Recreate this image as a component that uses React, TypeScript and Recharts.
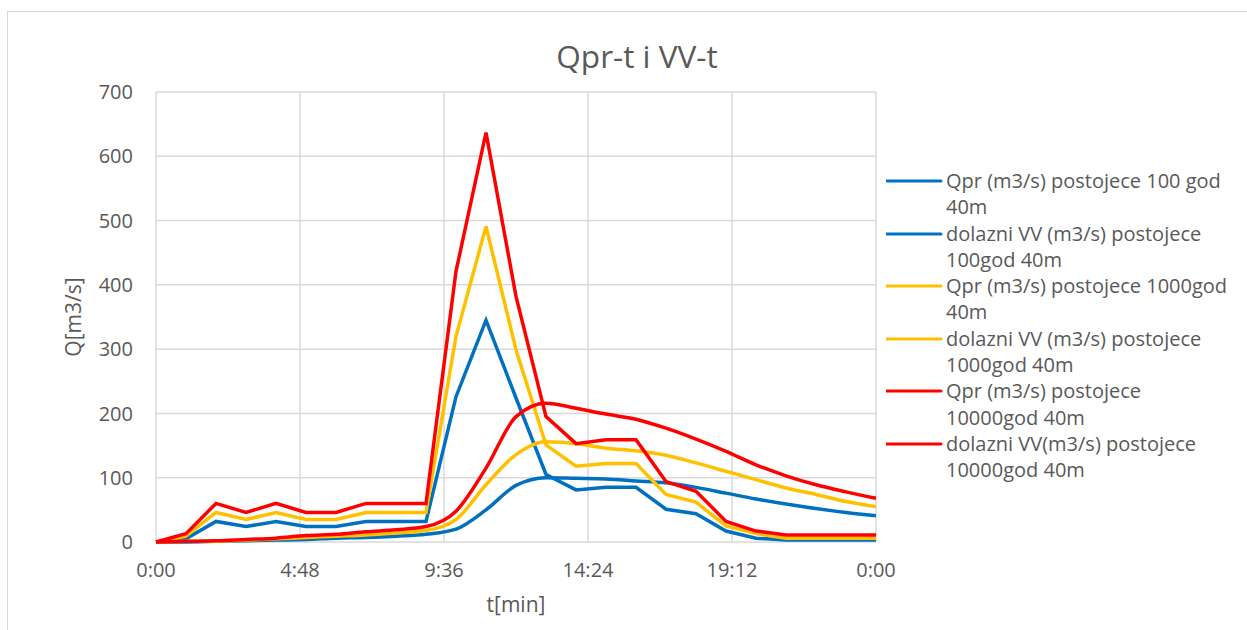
import React from 'react';
import { LineChart, Line, XAxis, YAxis, CartesianGrid, Legend, Label } from 'recharts';

// hours from start (0..24)
const hours = [0, 1, 2, 3, 4, 5, 6, 7, 8, 9, 10, 11, 12, 13, 14, 15, 16, 17, 18, 19, 20, 21, 22, 23, 24];

const qpr100 = [0, 5, 32, 24, 32, 24, 24, 32, 32, 32, 226, 345, 224, 105, 81, 85, 85, 51, 44, 17, 6, 3, 3, 3, 3];
const vv100 = [0, 0, 1, 2, 3, 4, 6, 7, 9, 12, 20, 50, 88, 100, 99, 98, 95, 92, 85, 76, 67, 59, 52, 46, 41];
const qpr1000 = [0, 9, 46, 35, 46, 35, 35, 46, 46, 46, 320, 491, 299, 151, 118, 122, 122, 74, 62, 25, 13, 6, 6, 6, 6];
const vv1000 = [0, 1, 1, 3, 5, 7, 9, 11, 14, 18, 35, 89, 136, 156, 153, 146, 142, 135, 123, 110, 97, 84, 74, 63, 55];
const qpr10000 = [0, 13, 60, 46, 60, 46, 46, 60, 60, 60, 421, 637, 382, 195, 153, 159, 159, 94, 79, 32, 17, 11, 11, 11, 11];
const vv10000 = [0, 1, 2, 4, 6, 10, 12, 16, 19, 24, 48, 115, 195, 216, 208, 199, 191, 177, 160, 141, 120, 103, 89, 78, 68];

const xTicks = [0, 4.8, 9.6, 14.4, 19.2, 24];
const xTickLabels = ['0:00', '4:48', '9:36', '14:24', '19:12', '0:00'];
const yTicks = [0, 100, 200, 300, 400, 500, 600, 700];

const series = [
  { key: 'qpr100', name: 'Qpr (m3/s) postojece 100 god 40m', color: '#0070C0', smooth: false },
  { key: 'vv100', name: 'dolazni VV (m3/s) postojece 100god 40m', color: '#0070C0', smooth: true },
  { key: 'qpr1000', name: 'Qpr (m3/s) postojece 1000god 40m', color: '#FFC000', smooth: false },
  { key: 'vv1000', name: 'dolazni VV (m3/s) postojece 1000god 40m', color: '#FFC000', smooth: true },
  { key: 'qpr10000', name: 'Qpr (m3/s) postojece 10000god 40m', color: '#FF0000', smooth: false },
  { key: 'vv10000', name: 'dolazni VV(m3/s) postojece 10000god 40m', color: '#FF0000', smooth: true },
];

const data = hours.map((h, i) => ({
  t: h,
  qpr100: qpr100[i],
  vv100: vv100[i],
  qpr1000: qpr1000[i],
  vv1000: vv1000[i],
  qpr10000: qpr10000[i],
  vv10000: vv10000[i],
}));

const FONT = '"Open Sans", "Noto Sans", sans-serif';
const TEXT = '#595959';

// keep the legend in series order (recharts sorts the payload by name)
const LegendContent: React.FC<any> = () => (
  <div style={{ fontFamily: FONT, fontSize: 20, color: TEXT, lineHeight: '26.3px' }}>
    {series.map((s, i) => (
      <div key={`leg-${i}`} style={{ display: 'flex', alignItems: 'flex-start' }}>
        <svg width={60} height={26} style={{ flex: '0 0 60px' }}>
          <line x1={1} y1={13} x2={55} y2={13} stroke={s.color} strokeWidth={3} strokeLinecap="round" />
        </svg>
        <div style={{ width: 286 }}>{s.name}</div>
      </div>
    ))}
  </div>
);

const App: React.FC = () => {
  return (
    <div style={{ position: 'absolute', left: 0, top: 0, width: 1247, height: 630, overflow: 'hidden', background: '#fff' }}>
      <div style={{ position: 'absolute', left: 7, top: 11, width: 1300, height: 700, border: '1.5px solid #d9d9d9' }} />
      <div
        style={{
          position: 'absolute', left: 0, top: 34, width: 1274, textAlign: 'center',
          fontFamily: FONT, fontSize: 31.5, color: TEXT,
        }}
      >
        Qpr-t i VV-t
      </div>
      <LineChart
        width={1247}
        height={630}
        data={data}
        margin={{ top: 92, right: 371, bottom: 38, left: 86 }}
        style={{ position: 'absolute', left: 0, top: 0 }}
      >
        <CartesianGrid stroke="#d9d9d9" strokeWidth={1.5} />
        <XAxis
          dataKey="t"
          type="number"
          domain={[0, 24]}
          ticks={xTicks}
          tickFormatter={(v: number) => xTickLabels[xTicks.indexOf(v)] ?? ''}
          axisLine={false}
          tickLine={false}
          tickMargin={15}
          height={50}
          tick={{ fill: TEXT, fontSize: 20, fontFamily: FONT }}
        >
          <Label value="t[min]" position="insideBottom" offset={-20} style={{ fill: TEXT, fontSize: 21, fontFamily: FONT }} />
        </XAxis>
        <YAxis
          domain={[0, 700]}
          ticks={yTicks}
          axisLine={false}
          tickLine={false}
          tickMargin={17}
          width={70}
          tick={{ fill: TEXT, fontSize: 20, fontFamily: FONT }}
        >
          <Label value="Q[m3/s]" angle={-90} position="insideLeft" offset={-12} style={{ fill: TEXT, fontSize: 21, fontFamily: FONT, textAnchor: 'middle' }} />
        </YAxis>
        <Legend
          layout="vertical"
          align="center"
          verticalAlign="middle"
          content={<LegendContent />}
          wrapperStyle={{ left: 886, top: 168, width: 360 }}
        />
        {series.map(s => (
          <Line
            key={s.key}
            dataKey={s.key}
            name={s.name}
            type={s.smooth ? 'monotone' : 'linear'}
            stroke={s.color}
            strokeWidth={3.5}
            dot={false}
            isAnimationActive={false}
          />
        ))}
      </LineChart>
    </div>
  );
};

export default App;
